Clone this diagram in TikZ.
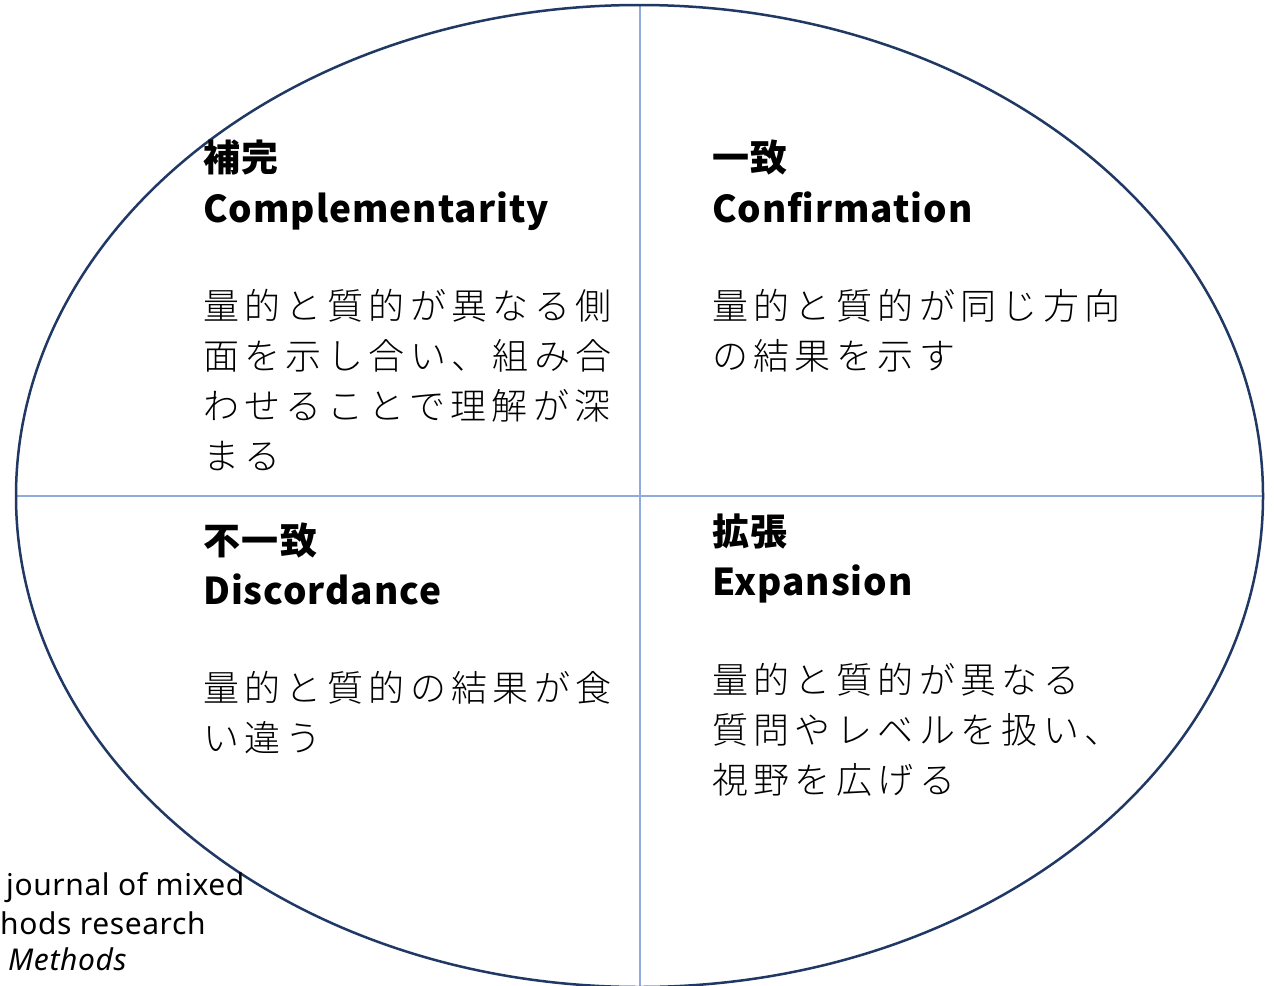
\documentclass[tikz,border=0pt]{standalone}
\usepackage{fontspec}
\newfontfamily\jpbody[LetterSpace=15,UprightFont=* Light]{Noto Sans CJK JP}
\newfontfamily\jphead[LetterSpace=4]{Noto Sans CJK JP}
\newfontfamily\lathead[LetterSpace=2.6]{Noto Sans CJK JP}
\newfontfamily\srcfont[LetterSpace=2]{Noto Sans}
\definecolor{ringc}{RGB}{31,56,100}
\definecolor{axisc}{RGB}{143,170,220}
\begin{document}
\begin{tikzpicture}[x=1pt,y=-1pt,
  jh/.style={anchor=base west,inner sep=0pt,font=\jphead\bfseries\fontsize{37}{50}\selectfont},
  lh/.style={anchor=base west,inner sep=0pt,font=\lathead\bfseries\fontsize{37}{50}\selectfont},
  bd/.style={anchor=base west,inner sep=0pt,font=\jpbody\fontsize{36}{50}\selectfont},
  src/.style={anchor=base west,inner sep=0pt,font=\srcfont\fontsize{30}{38}\selectfont}]
\useasboundingbox (0,0) rectangle (1274,985);
\clip (0,0) rectangle (1274,985);
\fill[white] (0,0) rectangle (1274,985);
% axes
\coordinate (top) at (640,5);
\coordinate (bot) at (640,990);
\coordinate (lft) at (16,496);
\coordinate (rgt) at (1263,496);
\draw[axisc,line width=1.5pt] (top) -- (bot);
\draw[axisc,line width=1.5pt] (lft) -- (rgt);
% ring
\coordinate (ctr) at (639.5,496);
\draw[ringc,line width=2.5pt] (ctr) ellipse [x radius=623.5pt, y radius=491pt];
% Q1
\node[jh] (q1a) at (203,171) {補完};
\node[lh] (q1b) at (203,222) {Complementarity};
\node[bd] (q1c) at (203,319) {量的と質的が異なる側};
\node[bd] (q1d) at (203,369) {面を示し合い、組み合};
\node[bd] (q1e) at (203,419) {わせることで理解が深};
\node[bd] (q1f) at (203,469) {まる};
% Q2
\node[jh] (q2a) at (712,171) {一致};
\node[lh] (q2b) at (712,222) {Confirmation};
\node[bd] (q2c) at (712,319) {量的と質的が同じ方向};
\node[bd] (q2d) at (712,369) {の結果を示す};
% Q3
\node[jh] (q3a) at (203,554) {不一致};
\node[lh] (q3b) at (203,604) {Discordance};
\node[bd] (q3c) at (203,701) {量的と質的の結果が食};
\node[bd] (q3d) at (203,751) {い違う};
% Q4
\node[jh] (q4a) at (712,545) {拡張};
\node[lh] (q4b) at (712,595) {Expansion};
\node[bd] (q4c) at (712,693) {量的と質的が異なる};
\node[bd] (q4d) at (712,743) {質問やレベルを扱い、};
\node[bd] (q4e) at (712,793) {視野を広げる};
% source
\node[src] (s1) at (6,895) {journal of mixed};
\node[src] (s2) at (0,934) {hods research};
\node[src,font=\srcfont\itshape\fontsize{30}{38}\selectfont] (s3) at (8,970) {Methods};
\end{tikzpicture}
\end{document}
